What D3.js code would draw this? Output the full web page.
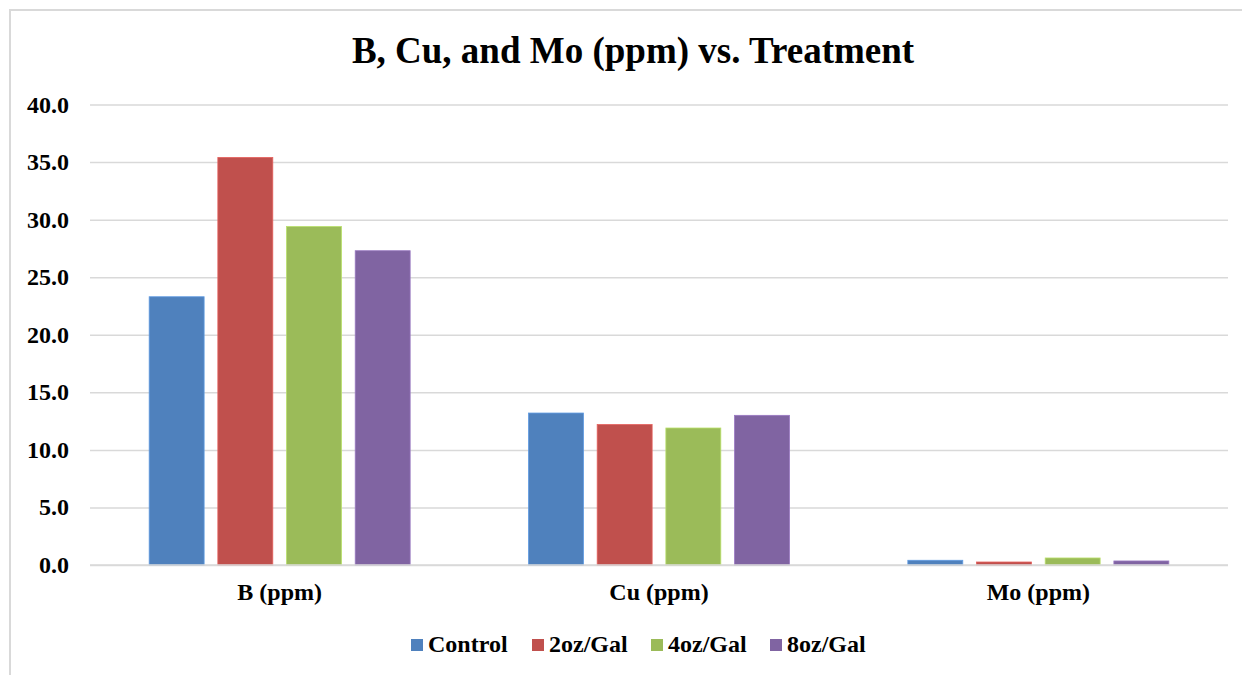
<!DOCTYPE html>
<html>
<head>
<meta charset="utf-8">
<script src="https://cdn.jsdelivr.net/npm/d3@7"></script>
<style>
  html, body { margin: 0; padding: 0; background: #ffffff; }
  svg { display: block; }
  text { font-family: "Liberation Serif", "Times New Roman", serif; font-weight: bold; fill: #000; }
</style>
</head>
<body>
<svg id="chart" width="1242" height="675"></svg>
<script>
const categories = ["B (ppm)", "Cu (ppm)", "Mo (ppm)"];
const seriesNames = ["Control", "2oz/Gal", "4oz/Gal", "8oz/Gal"];
const seriesColors = ["#4F81BD", "#C0504D", "#9BBB59", "#8064A2"];
const controlValues = [23.3, 13.2, 0.41];
const oz2Values = [35.4, 12.2, 0.26];
const oz4Values = [29.4, 11.9, 0.61];
const oz8Values = [27.3, 13.0, 0.35];
const yTicks = [0, 5, 10, 15, 20, 25, 30, 35, 40];
const titleText = "B, Cu, and Mo (ppm) vs. Treatment";

const seriesValues = [controlValues, oz2Values, oz4Values, oz8Values];

const svg = d3.select("#chart");
const W = 1242, H = 675;
const plot = { left: 90, right: 1228, top: 104.5, bottom: 565 };

// outer chart border (left and top visible)
svg.append("rect")
  .attr("x", 10).attr("y", 10)
  .attr("width", W + 20).attr("height", H + 20)
  .attr("fill", "#ffffff")
  .attr("stroke", "#d9d9d9").attr("stroke-width", 2);

const y = d3.scaleLinear().domain([0, 40]).range([plot.bottom, plot.top]);
const x0 = d3.scaleBand().domain(categories)
  .range([plot.left, plot.right]).paddingInner(0.312).paddingOuter(0.156);
const x1 = d3.scaleBand().domain(seriesNames)
  .range([0, x0.bandwidth()]).paddingInner(0.2).paddingOuter(0);
const color = d3.scaleOrdinal().domain(seriesNames).range(seriesColors);

// gridlines
const yAxis = d3.axisLeft(y).tickValues(yTicks)
  .tickSize(-(plot.right - plot.left)).tickFormat(d3.format(".1f")).tickPadding(21);
const gy = svg.append("g").attr("transform", `translate(${plot.left},0)`).call(yAxis);
gy.select(".domain").remove();
gy.selectAll(".tick line").attr("stroke", "#d9d9d9").attr("stroke-width", 1.5);
gy.selectAll(".tick text")
  .attr("font-size", 24).attr("font-family", "Liberation Serif, Times New Roman, serif")
  .attr("font-weight", "bold").attr("fill", "#000")
  .attr("dy", null).attr("y", 7.5);

// bars
const rows = [];
categories.forEach((c, ci) => {
  seriesNames.forEach((s, si) => rows.push({ cat: c, series: s, value: seriesValues[si][ci] }));
});
svg.append("g").selectAll("rect").data(rows).join("rect")
  .attr("x", d => x0(d.cat) + x1(d.series))
  .attr("width", x1.bandwidth())
  .attr("y", d => y(d.value))
  .attr("height", d => y(0) - y(d.value))
  .attr("fill", d => color(d.series))
  .attr("stroke", d => d3.color(color(d.series)).brighter(0.5))
  .attr("stroke-width", 0.8);

// baseline
svg.append("line")
  .attr("x1", plot.left).attr("x2", plot.right)
  .attr("y1", y(0)).attr("y2", y(0))
  .attr("stroke", "#d9d9d9").attr("stroke-width", 1.5);

// category labels
const xAxis = d3.axisBottom(x0).tickSize(0).tickPadding(0);
const gx = svg.append("g").attr("transform", `translate(0,${plot.bottom})`).call(xAxis);
gx.select(".domain").remove();
gx.selectAll(".tick text")
  .attr("font-size", 24).attr("font-family", "Liberation Serif, Times New Roman, serif")
  .attr("font-weight", "bold").attr("fill", "#000")
  .attr("dy", null).attr("y", 35);

// title
svg.append("text")
  .attr("x", 633).attr("y", 63)
  .attr("text-anchor", "middle")
  .attr("font-size", 37)
  .text(titleText);

// legend
const legendX = [411, 532, 651, 770];
const lg = svg.append("g").selectAll("g").data(seriesNames).join("g")
  .attr("transform", (d, i) => `translate(${legendX[i]},0)`);
lg.append("rect").attr("x", 0).attr("y", 639).attr("width", 12).attr("height", 12)
  .attr("fill", d => color(d));
lg.append("text").attr("x", 17).attr("y", 651.5).attr("font-size", 24).text(d => d);
</script>
</body>
</html>
